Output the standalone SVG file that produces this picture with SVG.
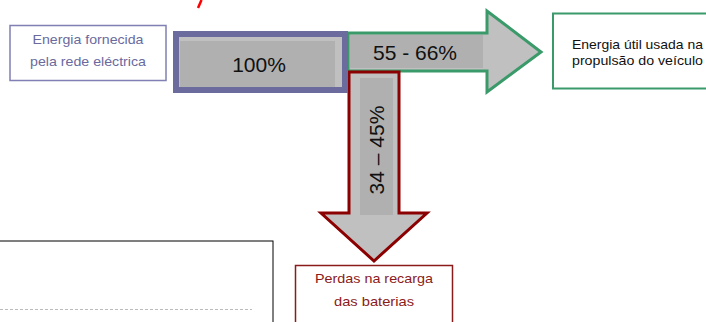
<svg xmlns="http://www.w3.org/2000/svg" width="706" height="322" viewBox="0 0 706 322">
<style>
text{font-family:"Liberation Sans",Arial,sans-serif}
.lbl{font-size:13px;text-anchor:middle}
.pct{font-size:21px;fill:#111;text-anchor:middle}
</style>
<rect width="706" height="322" fill="#fff"/>
<line x1="198" y1="8" x2="201.5" y2="0" stroke="#f00" stroke-width="2.5"/>
<g id="connectors">
<g id="arrow-useful">
<polygon points="348,33 487,33 487,11 541,52 487,92 487,71 348,71" fill="#c0c0c0" stroke="#3a9a6a" stroke-width="3"/>
<rect x="350" y="35" width="133" height="33" fill="#b0b0b0"/>
<text class="pct" x="415" y="60">55 - 66%</text>
</g>
<g id="arrow-loss">
<polygon points="349,72 399,72 399,213 427,213 374,261 321,213 349,213" fill="#c0c0c0" stroke="#8b0000" stroke-width="3"/>
<rect x="360" y="78" width="33" height="137" fill="#b0b0b0"/>
<text class="pct" transform="translate(384,150) rotate(-90)" x="0" y="0">34 – 45%</text>
</g>
</g>
<g id="source-bar">
<rect x="176" y="34" width="169" height="56" fill="#c0c0c0" stroke="#6b6b9e" stroke-width="6"/>
<rect x="180" y="41" width="155" height="46" fill="#b0b0b0"/>
<text class="pct" x="259" y="72">100%</text>
</g>
<g id="node-grid">
<rect x="10" y="25.5" width="156" height="55" fill="#fff" stroke="#8080b4" stroke-width="1.5"/>
<text class="lbl" x="88" y="44" fill="#6a6a9e" textLength="111" lengthAdjust="spacingAndGlyphs">Energia fornecida</text>
<text class="lbl" x="88" y="66" fill="#6a6a9e" textLength="116" lengthAdjust="spacingAndGlyphs">pela rede eléctrica</text>
</g>
<g id="node-useful">
<rect x="553" y="13.5" width="160" height="75" fill="#fff" stroke="#3a9a6a" stroke-width="2"/>
<text x="572" y="49" font-size="13" fill="#111" textLength="131" lengthAdjust="spacingAndGlyphs">Energia útil usada na</text>
<text x="572" y="65" font-size="13" fill="#111" textLength="131" lengthAdjust="spacingAndGlyphs">propulsão do veículo</text>
</g>
<g id="node-loss">
<rect x="295.5" y="265.5" width="157" height="70" fill="#fff" stroke="#8b1a1a" stroke-width="1.5"/>
<text class="lbl" x="374" y="283" fill="#8b1a1a" textLength="118" lengthAdjust="spacingAndGlyphs">Perdas na recarga</text>
<text class="lbl" x="374" y="306" fill="#8b1a1a" textLength="80" lengthAdjust="spacingAndGlyphs">das baterias</text>
</g>
<g id="node-bottom">
<rect x="-5" y="241" width="278" height="100" fill="#fff" stroke="#000" stroke-width="1"/>
<line x1="0" y1="309.5" x2="252" y2="309.5" stroke="#bbb" stroke-width="1" stroke-dasharray="3,2"/>
</g>
</svg>
